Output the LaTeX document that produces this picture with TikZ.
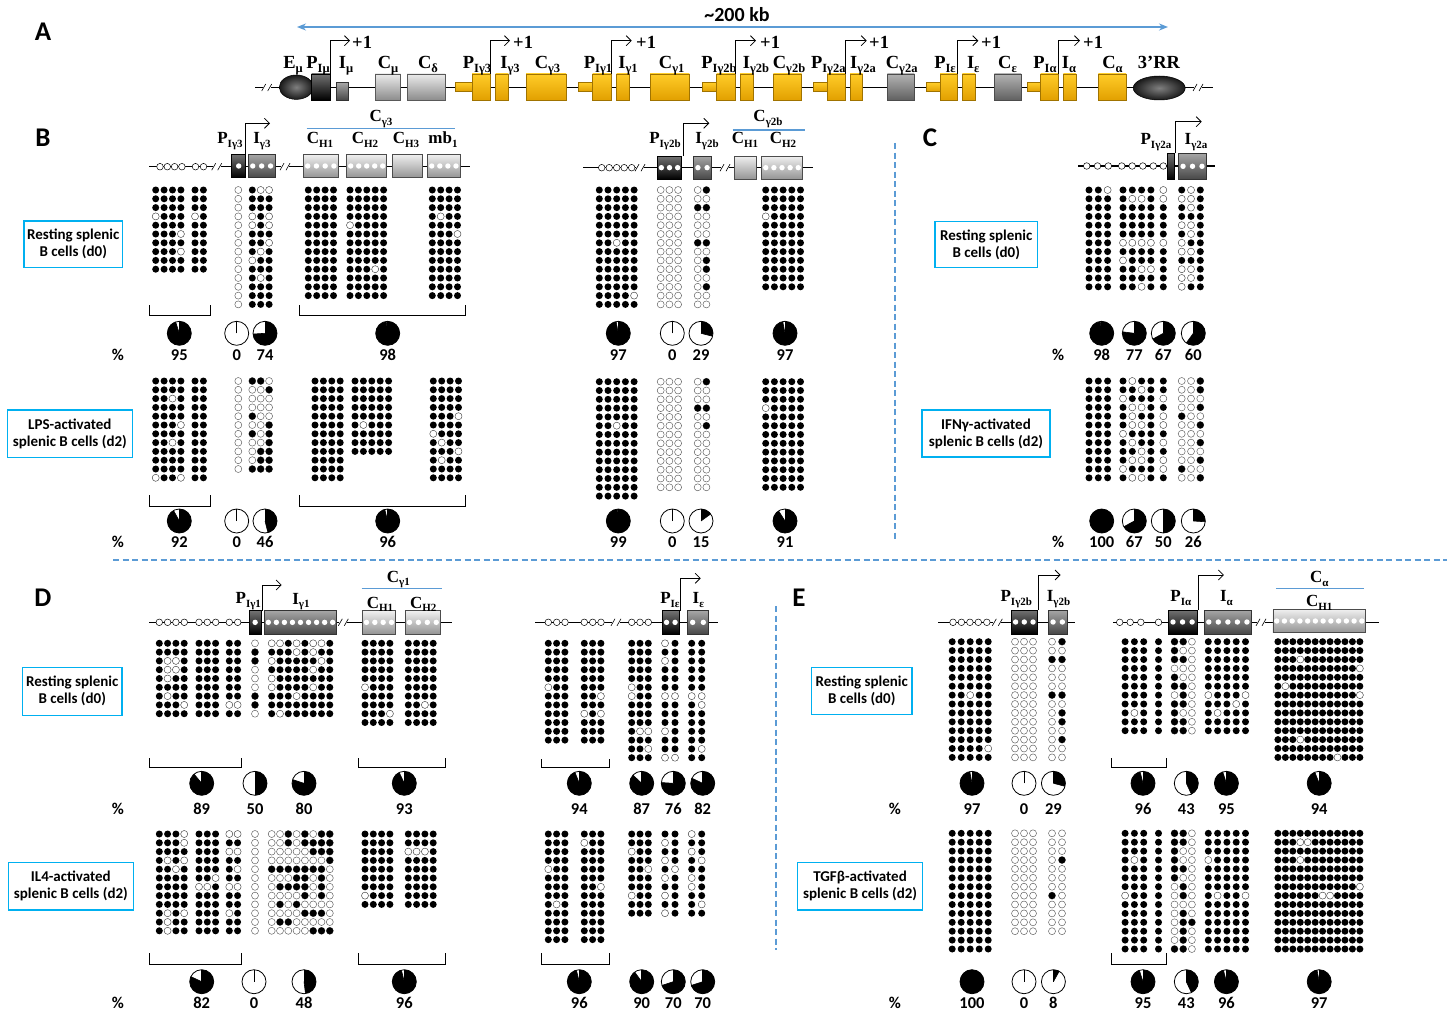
\documentclass[tikz,border=0pt]{standalone}
\usepackage{fontspec}
\setmainfont{Liberation Serif}
\newfontfamily\cfont{Carlito}
\usetikzlibrary{arrows.meta}
\definecolor{cyanbox}{RGB}{0,176,240}
\definecolor{dblue}{RGB}{91,155,213}
\definecolor{goldlt}{RGB}{255,204,40}
\definecolor{golddk}{RGB}{226,160,0}
\definecolor{goldln}{RGB}{160,115,0}
\newcommand{\lsub}[1]{\raisebox{-0.5ex}{\fontsize{11}{11}\selectfont #1}}
\newcommand{\asub}[1]{\raisebox{-0.5ex}{\fontsize{12.5}{12.5}\selectfont #1}}
\def\dx{8.4}\def\dy{8.8}\def\dr{3.5pt}
\tikzset{
  fdot/.style={fill=black},
  odot/.style={fill=white,draw=black!65,line width=0.45pt},
  altfdot/.style={odot},
  altodot/.style={fdot},
  blk/.style={top color=black!55,bottom color=black,draw=black,line width=0.5pt},
  mgr/.style={top color=black!35,bottom color=black!72,draw=black!80,line width=0.5pt},
  lgr/.style={top color=black!6,bottom color=black!42,draw=black!70,line width=0.5pt},
  ygb/.style={top color=goldlt,bottom color=golddk,draw=goldln,line width=0.5pt},
  agr/.style={top color=black!8,bottom color=black!45,draw=black!65,line width=0.5pt},
  dgr/.style={top color=black!30,bottom color=black!62,draw=black!70,line width=0.5pt},
  glab/.style={font=\bfseries\fontsize{17}{17}\selectfont,anchor=base,inner sep=0pt},
  alab/.style={font=\bfseries\fontsize{18.5}{18.5}\selectfont,anchor=base,inner sep=0pt},
  numlab/.style={font=\cfont\bfseries\fontsize{16.5}{16.5}\selectfont,inner sep=0pt},
  plab/.style={font=\cfont\bfseries\fontsize{27}{27}\selectfont,inner sep=0pt},
  cellbox/.style={draw=cyanbox,line width=1.3pt,font=\cfont\bfseries\fontsize{15}{17}\selectfont,align=center,inner sep=0pt},
  sepline/.style={dblue,line width=1.5pt,dash pattern=on 6pt off 3.5pt},
  tssarrow/.style={line width=0.8pt,-{Straight Barb[length=5pt,width=10pt]}},
  locus/.style={line width=1.2pt},
  bracket/.style={line width=0.9pt},
  bluebar/.style={dblue,line width=1.1pt},
}
% dot grid: x0, y0, cols, rows, default (f/o), exceptions c/r
\newcommand{\dgrid}[6]{%
  \foreach \cc in {1,...,#3}{\foreach \rr in {1,...,#4}{%
    \path[#5dot] ({#1+(\cc-1)*\dx},{#2+(\rr-1)*\dy}) circle[radius=\dr];}}%
  \foreach \cc/\rr in {#6}{\ifnum\cc>0
    \path[alt#5dot] ({#1+(\cc-1)*\dx},{#2+(\rr-1)*\dy}) circle[radius=\dr];\fi}}
% pie: x, y, pct, number y
\newcommand{\piec}[4]{%
  \draw[line width=0.8pt,fill=white] (#1,#2) circle[radius=12pt];
  \ifnum#3>0 \fill (#1,#2) -- ++(0,-12) arc[start angle=90,end angle={90-3.6*#3},radius=12pt] -- cycle;
  \draw[line width=0.6pt] (#1,#2) -- ++({90-3.6*#3}:12pt);\fi
  \draw[line width=0.6pt] (#1,#2) -- ++(0,-12);
  \node[numlab] at (#1,#4) {#3};}
% gene box: style, x1,y1,x2,y2, ndots
\newcommand{\gbox}[6]{%
  \path[#1] (#2,#3) rectangle (#4,#5);
  \ifnum#6>0
  \foreach \k in {1,...,#6}{\fill[white] ({#2+(#4-#2)*(\k-0.5)/#6},{(#3+#5)/2}) circle[radius=2.7pt];}
  \fi}
\newcommand{\lcs}[2]{\foreach \xx in {#2}{\draw[fill=white,line width=0.5pt] (\xx,#1) circle[radius=3.3pt];}}
\newcommand{\brk}[2]{\fill[white] (#1-4,#2-2) rectangle (#1+4,#2+2);
  \draw[line width=0.6pt] (#1-5,#2+3.5)--(#1-1,#2-3.5) (#1+1,#2+3.5)--(#1+5,#2-3.5);}
\newcommand{\tss}[4]{\draw[tssarrow] (#1,#2) -- (#1,#3) -- (#4,#3);}
\newcommand{\brkt}[4]{\draw[bracket] (#1,#3) -- (#1,#4) -- (#2,#4) -- (#2,#3);}
\begin{document}
\begin{tikzpicture}[x=1pt,y=-1pt]
\useasboundingbox (0,0) rectangle (1453,1014);
\fill[white] (0,0) rectangle (1453,1014);

% ================= Panel A =================
\node[plab] (lA) at (43,32) {A};
\draw[dblue,line width=1.3pt,{Stealth[length=9pt,width=7pt]}-{Stealth[length=9pt,width=7pt]}] (297,27) -- (1168,27);
\node[font=\cfont\bfseries\fontsize{20}{20}\selectfont] (kb) at (737,15) {\textasciitilde200 kb};
\draw[line width=0.6pt] (255,87.5) -- (1213,87.5);
\brk{266.7}{87.5}
\brk{1198}{87.5}
\draw[line width=0.5pt,draw=black,inner color=black!50,outer color=black!90] (296.3,87.2) ellipse[x radius=17pt,y radius=12.2pt];
\gbox{blk}{311.7}{74}{330}{100}{0}
\gbox{mgr}{336}{82.7}{348.7}{100}{0}
\gbox{agr}{375}{74}{400.7}{100}{0}
\gbox{agr}{407}{74}{445}{100}{0}
\gbox{ygb}{455.7}{82.7}{472}{91.7}{0}
\gbox{ygb}{472}{74}{490}{100}{0}
\gbox{ygb}{495.7}{74}{508.3}{100}{0}
\gbox{ygb}{526}{74}{566}{100}{0}
\gbox{ygb}{578.3}{82.7}{592.7}{91.7}{0}
\gbox{ygb}{592.7}{74}{611}{100}{0}
\gbox{ygb}{616.7}{74}{629.3}{100}{0}
\gbox{ygb}{650}{74}{689.3}{100}{0}
\gbox{ygb}{702.3}{82.7}{716.7}{91.7}{0}
\gbox{ygb}{716.7}{74}{735.3}{100}{0}
\gbox{ygb}{740}{74}{753.3}{100}{0}
\gbox{ygb}{773.3}{74}{801.7}{100}{0}
\gbox{ygb}{813.3}{82.7}{827.3}{91.7}{0}
\gbox{ygb}{827.3}{74}{845.3}{100}{0}
\gbox{ygb}{850}{74}{862.7}{100}{0}
\gbox{dgr}{887.3}{74}{914.3}{100}{0}
\gbox{ygb}{926}{82.7}{940}{91.7}{0}
\gbox{ygb}{940}{74}{957.3}{100}{0}
\gbox{ygb}{962.3}{74}{975}{100}{0}
\gbox{dgr}{994.3}{74}{1021}{100}{0}
\gbox{ygb}{1027.7}{82.7}{1040.7}{91.7}{0}
\gbox{ygb}{1040.7}{74}{1058.3}{100}{0}
\gbox{ygb}{1063.3}{74}{1076}{100}{0}
\gbox{ygb}{1098.3}{74}{1126}{100}{0}
\draw[line width=0.5pt,draw=black,inner color=black!50,outer color=black!90] (1159.2,88) ellipse[x radius=26pt,y radius=12pt];
\tss{330}{74}{40.7}{350}
\tss{490}{74}{40.7}{510}
\tss{611}{74}{40.7}{631.7}
\tss{735.3}{74}{40.7}{756}
\tss{845.3}{74}{40.7}{866.7}
\tss{957.3}{74}{40.7}{978.3}
\tss{1058.3}{74}{40.7}{1080}
\foreach \px/\nm in {352/p1,513/p2,636/p3,760/p4,869/p5,981/p6,1083/p7}{
  \node[alab,anchor=base west] (\nm) at (\px,48.5) {+1};}
\node[alab] (aEm) at (293,68.3) {E\asub{μ}};
\node[alab] (aPm) at (318,68.3) {P\asub{Iμ}};
\node[alab] (aIm) at (346,68.3) {I\asub{μ}};
\node[alab] (aCm) at (388,68.3) {C\asub{μ}};
\node[alab] (aCd) at (428,68.3) {C\asub{δ}};
\node[alab] (aP3) at (477,68.3) {P\asub{Iγ3}};
\node[alab] (aI3) at (510,68.3) {I\asub{γ3}};
\node[alab] (aC3) at (547.5,68.3) {C\asub{γ3}};
\node[alab] (aP1) at (598,68.3) {P\asub{Iγ1}};
\node[alab] (aI1) at (628,68.3) {I\asub{γ1}};
\node[alab] (aC1) at (671.7,68.3) {C\asub{γ1}};
\node[alab] (aP2b) at (719,68.3) {P\asub{Iγ2b}};
\node[alab] (aI2b) at (756,68.3) {I\asub{γ2b}};
\node[alab] (aC2b) at (789,68.3) {C\asub{γ2b}};
\node[alab] (aP2a) at (828.3,68.3) {P\asub{Iγ2a}};
\node[alab] (aI2a) at (863,68.3) {I\asub{γ2a}};
\node[alab] (aC2a) at (901.7,68.3) {C\asub{γ2a}};
\node[alab] (aPe) at (945,68.3) {P\asub{Iε}};
\node[alab] (aIe) at (973.3,68.3) {I\asub{ε}};
\node[alab] (aCe) at (1007.5,68.3) {C\asub{ε}};
\node[alab] (aPa) at (1045,68.3) {P\asub{Iα}};
\node[alab] (aIa) at (1069,68.3) {I\asub{α}};
\node[alab] (aCa) at (1112.5,68.3) {C\asub{α}};
\node[alab] (aRR) at (1159,68.3) {3’RR};

% ================= separators =================
\draw[sepline] (895,143) -- (895,540);
\draw[sepline] (113,560) -- (1447,560);
\draw[sepline] (776,606) -- (776,950);

% ================= Panel B =================
\node[plab] (lB) at (43,138) {B};
\draw[locus] (149,166.7) -- (470,166.7);
\lcs{166.7}{160,167.3,174.6,181.9,195.5,203.5}
\brk{216.7}{166.7}
\brk{285}{166.7}
\gbox{blk}{231.7}{154.3}{245.7}{177.7}{1}
\gbox{mgr}{248.3}{154.3}{275}{177.7}{3}
\gbox{lgr}{303.3}{154.3}{338.3}{177.7}{4}
\gbox{lgr}{346.7}{154.3}{386.7}{177.7}{5}
\gbox{lgr}{392.7}{154.3}{422.7}{177.7}{0}
\gbox{lgr}{427.7}{154.3}{460}{177.7}{4}
\tss{245.7}{154.3}{123.3}{270}
\node[glab] (bP3) at (230,143.5) {P\lsub{Iγ3}};
\node[glab] (bI3) at (262,143.5) {I\lsub{γ3}};
\node[glab] (bH1) at (320,143.5) {C\lsub{H1}};
\node[glab] (bH2) at (365,143.5) {C\lsub{H2}};
\node[glab] (bH3) at (406,143.5) {C\lsub{H3}};
\node[glab] (bmb) at (443,143.5) {mb\lsub{1}};
\node[glab] (bCg3) at (381,122) {C\lsub{γ3}};
\draw[bluebar] (306.7,128.3) -- (455,128.3);

\draw[locus] (583.3,167.7) -- (812.7,167.7);
\lcs{167.7}{601.7,609.2,616.7,624.2,631.7}
\brk{640}{167.7}
\brk{725}{167.7}
\gbox{blk}{657.3}{156}{681.7}{179.3}{3}
\gbox{mgr}{693.3}{156}{711.7}{179.3}{2}
\gbox{lgr}{734}{156}{756}{179.3}{0}
\gbox{lgr}{761.7}{156}{802.3}{179.3}{5}
\tss{683.5}{156}{123.3}{709.3}
\node[glab] (bP2b) at (665,143.5) {P\lsub{Iγ2b}};
\node[glab] (bI2b) at (707,143.5) {I\lsub{γ2b}};
\node[glab] (bH1b) at (745,143.5) {C\lsub{H1}};
\node[glab] (bH2b) at (783,143.5) {C\lsub{H2}};
\node[glab] (bCg2b) at (768,122) {C\lsub{γ2b}};
\draw[bluebar] (732.7,130) -- (805,130);

\node[cellbox,minimum width=98.7pt,minimum height=46.7pt] (cb1) at (73.3,244.3) {Resting splenic\\B cells (d0)};
\node[cellbox,minimum width=125pt,minimum height=47.7pt] (cb2) at (69.8,433.8) {LPS-activated\\splenic B cells (d2)};

\def\dx{8.4}\def\dy{8.8}
\dgrid{155.7}{190}{4}{10}{f}{1/4,4/6,4/8}
\dgrid{195}{190}{2}{10}{f}{1/4}
\dgrid{238.3}{190}{1}{14}{o}{0/0}
\dgrid{252.3}{190}{3}{14}{f}{2/1,3/1,1/4,3/4,1/5,3/5,3/7,2/8,1/9,2/11}
\dgrid{308.3}{190}{4}{13}{f}{0/0}
\dgrid{350}{190}{5}{13}{f}{1/5,4/10}
\dgrid{432.3}{190}{4}{13}{f}{2/4,4/6}
\dgrid{155.7}{381}{4}{12}{f}{3/3,4/6,3/8,1/12,4/12}
\dgrid{195}{381}{2}{12}{f}{0/0}
\dgrid{238.3}{381}{1}{11}{o}{0/0}
\dgrid{252.3}{381}{3}{11}{o}{1/1,2/1,3/2,1/5,3/6,1/7,3/7,3/8,2/9,3/9,2/10,3/10,1/11,2/11,3/11}
\dgrid{315}{381}{4}{12}{f}{0/0}
\dgrid{355}{381}{5}{9}{f}{2/6}
\dgrid{433.3}{381}{4}{12}{f}{4/5,1/7,2/8,4/9,2/10}
\def\dx{8.7}
\dgrid{599.3}{190}{5}{14}{f}{3/7,5/13}
\dgrid{660.7}{190}{3}{14}{o}{0/0}
\dgrid{697.7}{190}{2}{14}{o}{2/1,1/3,2/3,1/7,2/7,2/9,2/10,2/12}
\dgrid{765.7}{190}{5}{12}{f}{1/4}
\dgrid{599.3}{381.7}{5}{14}{f}{3/6}
\dgrid{660.7}{381.7}{3}{13}{o}{0/0}
\dgrid{697.7}{381.7}{2}{13}{o}{2/1,1/4,2/4,2/6}
\dgrid{765.7}{381.7}{5}{13}{f}{1/4}

\brkt{149}{210}{305}{315}
\brkt{299}{465.7}{305}{315}
\brkt{149}{210}{495}{506}
\brkt{299}{465.7}{495}{506}

\node[numlab] (pc1) at (118,355) {\%};
\node[numlab] (pc2) at (118,542) {\%};
\piec{179.3}{333.3}{95}{355}
\piec{236.7}{333.3}{0}{355}
\piec{265}{333.3}{74}{355}
\piec{387.7}{333.3}{98}{355}
\piec{618.3}{333.3}{97}{355}
\piec{672.3}{333.3}{0}{355}
\piec{701}{333.3}{29}{355}
\piec{785}{333.3}{97}{355}
\piec{179.3}{521}{92}{542}
\piec{236.7}{521}{0}{542}
\piec{265}{521}{46}{542}
\piec{387.7}{521}{96}{542}
\piec{618.3}{521}{99}{542}
\piec{672.3}{521}{0}{542}
\piec{701}{521}{15}{542}
\piec{785}{521}{91}{542}

% ================= Panel C =================
\node[plab] (lC) at (930,138) {C};
\draw[locus] (1078.3,166) -- (1215,166);
\lcs{166}{1086.7,1097.5,1108.3,1121.7,1132.2,1142.8,1153.3,1163.3}
\gbox{blk}{1167.3}{153.3}{1174}{179.3}{0}
\gbox{mgr}{1178.3}{153.3}{1206.7}{179.3}{3}
\tss{1175}{153.3}{121.7}{1201.7}
\node[glab] (cP) at (1156,145) {P\lsub{Iγ2a}};
\node[glab] (cI) at (1196,145) {I\lsub{γ2a}};
\node[cellbox,minimum width=102.7pt,minimum height=45.6pt] (cb3) at (986.3,244.5) {Resting splenic\\B cells (d0)};
\node[cellbox,minimum width=128pt,minimum height=47pt] (cb4) at (986,433.5) {IFNγ-activated\\splenic B cells (d2)};
\def\dx{9.3}
\dgrid{1089}{190}{3}{12}{f}{3/1}
\dgrid{1123}{190}{4}{12}{f}{2/2,3/2,1/7,2/7,3/7,4/7,1/9,3/10,4/10,3/12}
\dgrid{1163.3}{190}{1}{12}{f}{1/1,1/2,1/7}
\dgrid{1181.7}{190}{3}{12}{f}{2/1,1/2,2/2,2/3,1/5,2/5,2/6,1/7,1/8,2/8,1/10,2/10,1/11,2/11,1/12}
\dgrid{1089}{381}{3}{12}{f}{0/0}
\dgrid{1123}{381}{4}{12}{f}{2/1,3/2,1/3,2/4,3/4,2/5,2/6,3/6,1/7,2/8,3/9,2/10,3/10,1/11,2/12,3/12}
\dgrid{1163.3}{381}{1}{12}{f}{1/3,1/5,1/6,1/8,1/10,1/11}
\dgrid{1181.7}{381}{3}{12}{o}{3/1,3/2,3/4,1/5,3/6,3/8,3/10,1/11,3/12}
\node[numlab] (pc3) at (1058,355) {\%};
\node[numlab] (pc4) at (1058,542) {\%};
\piec{1101.7}{333.3}{98}{355}
\piec{1134.3}{333.3}{77}{355}
\piec{1163.3}{333.3}{67}{355}
\piec{1193.3}{333.3}{60}{355}
\piec{1101.7}{521}{100}{542}
\piec{1134.3}{521}{67}{542}
\piec{1163.3}{521}{50}{542}
\piec{1193.3}{521}{26}{542}

% ================= Panel D =================
\node[plab] (lD) at (43,598) {D};
\draw[locus] (149,622.3) -- (451.7,622.3);
\lcs{622.3}{159.3,167.6,175.9,184.3,199,207.3,215.7,229.3,237.7}
\brk{343.3}{622.3}
\gbox{blk}{249.3}{610.7}{261}{634}{1}
\gbox{mgr}{264.3}{610.7}{336.7}{634}{9}
\gbox{lgr}{362.3}{610.7}{395.7}{634}{4}
\gbox{lgr}{405}{610.7}{440.7}{634}{4}
\tss{262.3}{610.7}{585}{281.7}
\node[glab] (dP1) at (248.3,603.3) {P\lsub{Iγ1}};
\node[glab] (dI1) at (301,604) {I\lsub{γ1}};
\node[glab] (dH1) at (380,608) {C\lsub{H1}};
\node[glab] (dH2) at (423.3,608) {C\lsub{H2}};
\node[glab] (dCg1) at (398.3,582) {C\lsub{γ1}};
\draw[bluebar] (361.7,588.3) -- (441.7,588.3);

\draw[locus] (535,622.3) -- (718.3,622.3);
\lcs{622.3}{548.3,556.7,565,584.3,592.7,601,631.7,640,648.3}
\brk{616}{622.3}
\gbox{blk}{662.3}{610.7}{679.3}{634}{2}
\gbox{mgr}{687.3}{610.7}{708.7}{634}{2}
\tss{680}{610.7}{578.3}{700.7}
\node[glab] (dPe) at (670,603.3) {P\lsub{Iε}};
\node[glab] (dIe) at (698.3,603.3) {I\lsub{ε}};

\node[cellbox,minimum width=99.3pt,minimum height=48pt] (cb5) at (72.3,691.3) {Resting splenic\\B cells (d0)};
\node[cellbox,minimum width=125pt,minimum height=47.7pt] (cb6) at (70.8,886.2) {IL4-activated\\splenic B cells (d2)};
\def\dx{8.3}
\dgrid{159.3}{643.3}{4}{9}{f}{2/3,3/3,2/4,3/4,2/5,2/7,4/8}
\dgrid{199}{643.3}{3}{9}{f}{0/0}
\dgrid{229.3}{643.3}{2}{9}{f}{1/8,2/8}
\dgrid{255}{643.3}{1}{9}{o}{1/2,1/3,1/7,1/8}
\dgrid{271.7}{643.3}{8}{9}{f}{1/1,2/1,4/1,6/1,7/1,4/2,6/2,1/3,7/3,6/4,1/5,1/6,6/6,4/7,2/9}
\dgrid{365}{643.3}{4}{10}{f}{1/6,4/9}
\dgrid{408.3}{643.3}{4}{10}{f}{3/8}
\dgrid{159.3}{834}{4}{12}{f}{4/1,4/2,2/4,4/4,3/5,2/10,4/10,2/11,2/12}
\dgrid{199}{834}{3}{12}{f}{3/6,1/7,2/7}
\dgrid{229.3}{834}{2}{12}{f}{1/1,2/1,1/3,2/3,2/5,1/7,2/7,1/10}
\dgrid{255}{834}{1}{12}{o}{0/0}
\dgrid{271.7}{834}{8}{12}{o}{3/1,5/1,7/1,8/1,3/2,5/2,6/2,7/2,8/2,6/3,7/3,8/3,8/4,1/5,2/5,3/5,4/5,5/5,6/5,7/5,4/6,5/6,7/6,2/7,3/7,4/7,5/7,7/7,5/8,7/8,2/9,4/9,5/10,6/10,7/10,2/11,3/11,6/12,7/12,8/12}
\dgrid{365}{834}{4}{9}{f}{1/8}
\dgrid{408.3}{834}{4}{9}{f}{1/3,2/3,3/3}
\dgrid{548.3}{643.3}{3}{12}{f}{1/6}
\dgrid{584.3}{643.3}{3}{12}{f}{3/7,1/9,3/9}
\dgrid{631.7}{643.3}{3}{14}{f}{1/6,1/7,2/11,3/11,3/13}
\dgrid{548.3}{834}{3}{13}{f}{1/5,2/9}
\dgrid{584.3}{834}{3}{13}{f}{1/2,3/7}
\dgrid{631.7}{834}{3}{10}{f}{1/3,3/5,1/8}
\def\dx{10}
\dgrid{665}{643.3}{2}{14}{f}{1/1,1/3,1/7,2/7,1/11,1/14,2/14}
\dgrid{691.7}{643.3}{2}{14}{f}{1/7,2/7,2/8,2/13}
\dgrid{665}{834}{2}{10}{f}{1/2,1/4,2/5,1/6,1/8,1/10}
\dgrid{691.7}{834}{2}{10}{f}{1/1,1/3,2/4,1/6,1/7,2/9}

\brkt{149}{241}{758}{767}
\brkt{358.3}{445.7}{758}{767}
\brkt{541}{609.3}{759}{767}
\brkt{149}{241}{953}{964}
\brkt{358.3}{445.7}{953}{964}
\brkt{541}{609.3}{953}{964}

\node[numlab] (pc5) at (118,809) {\%};
\node[numlab] (pc6) at (118,1003) {\%};
\piec{201.7}{783.3}{89}{809}
\piec{255}{783.3}{50}{809}
\piec{304}{783.3}{80}{809}
\piec{404.3}{783.3}{93}{809}
\piec{579.3}{783.3}{94}{809}
\piec{641.7}{783.3}{87}{809}
\piec{673.3}{783.3}{76}{809}
\piec{702.7}{783.3}{82}{809}
\piec{201.7}{981.7}{82}{1003}
\piec{254}{981.7}{0}{1003}
\piec{304}{981.7}{48}{1003}
\piec{404.3}{981.7}{96}{1003}
\piec{579.3}{981.7}{96}{1003}
\piec{641.7}{981.7}{90}{1003}
\piec{673.3}{981.7}{70}{1003}
\piec{702.7}{981.7}{70}{1003}

% ================= Panel E =================
\node[plab] (lE) at (799,598) {E};
\draw[locus] (938.2,622.3) -- (1075.4,622.3);
\lcs{622.3}{953,961.4,969.9,978.3,986.8}
\brk{997.3}{622.3}
\gbox{blk}{1011.2}{610}{1037.4}{634}{3}
\gbox{mgr}{1048.4}{610}{1067}{634}{2}
\tss{1038.2}{610}{575}{1060.6}
\node[glab] (eP2b) at (1016.3,601.7) {P\lsub{Iγ2b}};
\node[glab] (eI2b) at (1058.5,601.7) {I\lsub{γ2b}};

\draw[locus] (1113.3,622.3) -- (1379.2,622.3);
\lcs{622.3}{1119.7,1130.2,1140.8,1158.5}
\brk{1261}{622.3}
\gbox{blk}{1168.2}{610}{1196.9}{634}{3}
\gbox{mgr}{1204}{610}{1251.7}{634}{5}
\gbox{lgr}{1272.8}{609.3}{1365.7}{632.7}{12}
\tss{1198.6}{610}{575}{1223.9}
\node[glab] (ePa) at (1180.8,601.7) {P\lsub{Iα}};
\node[glab] (eIa) at (1226.4,601.7) {I\lsub{α}};
\node[glab] (eH1) at (1319.2,606.7) {C\lsub{H1}};
\node[glab] (eCa) at (1319.2,582.5) {C\lsub{α}};
\draw[bluebar] (1275.8,588.3) -- (1364.4,588.3);

\node[cellbox,minimum width=100.4pt,minimum height=47.4pt] (cb7) at (861.8,691) {Resting splenic\\B cells (d0)};
\node[cellbox,minimum width=124.9pt,minimum height=47.3pt] (cb8) at (860.1,886.3) {TGFβ-activated\\splenic B cells (d2)};
\def\dy{8.9}
\def\dx{9}
\dgrid{952.2}{641.7}{5}{14}{f}{3/7,5/13}
\dgrid{1015}{641.7}{3}{14}{o}{0/0}
\dgrid{952.2}{833.3}{5}{14}{f}{0/0}
\dgrid{1015}{833.3}{3}{12}{o}{0/0}
\def\dx{10}
\dgrid{1052}{641.7}{2}{14}{o}{2/1,1/3,2/3,1/7,2/7,2/9,2/10,2/12}
\dgrid{1052}{833.3}{2}{12}{o}{2/4,1/8}
\def\dx{9.3}
\dgrid{1125.1}{641.7}{3}{11}{f}{2/9}
\dgrid{1158.5}{641.7}{1}{11}{f}{0/0}
\dgrid{1208.3}{641.7}{5}{11}{f}{1/7,5/7,4/8,2/9}
\dgrid{1125.1}{833.3}{3}{14}{f}{2/4,1/8}
\dgrid{1158.5}{833.3}{1}{14}{f}{0/0}
\dgrid{1208.3}{833.3}{5}{14}{f}{1/4,2/8,5/8}
\def\dx{8.7}
\dgrid{1174.5}{641.7}{3}{11}{o}{1/1,2/1,1/2,1/3,2/3,1/5,1/6,2/6,2/7,1/8,2/8,1/9,1/10,2/10,1/11,2/11}
\dgrid{1174.5}{833.3}{3}{14}{o}{1/1,2/1,1/2,2/2,1/3,1/4,1/5,2/5,1/6,2/7,2/8,2/10,2/11,3/11,2/12,2/13,1/14,2/14}
\def\dx{7.45}
\dgrid{1277.9}{641.7}{12}{14}{f}{4/3,12/4,2/6,12/7,4/12,9/14}
\dgrid{1277.9}{833.3}{12}{14}{f}{4/2,5/2,4/4,12/7,7/8,8/8}

\brkt{1111.2}{1166}{758}{767}
\brkt{1111.2}{1166}{953}{964}

\node[numlab] (pc7) at (895,809) {\%};
\node[numlab] (pc8) at (895,1003) {\%};
\piec{972}{783.3}{97}{809}
\piec{1024}{783.3}{0}{809}
\piec{1053.4}{783.3}{29}{809}
\piec{1143}{783.3}{96}{809}
\piec{1186.3}{783.3}{43}{809}
\piec{1226.4}{783.3}{95}{809}
\piec{1319.2}{783.3}{94}{809}
\piec{972}{981.7}{100}{1003}
\piec{1024}{981.7}{0}{1003}
\piec{1053.4}{981.7}{8}{1003}
\piec{1143}{981.7}{95}{1003}
\piec{1186.3}{981.7}{43}{1003}
\piec{1226.4}{981.7}{96}{1003}
\piec{1319.2}{981.7}{97}{1003}
\end{tikzpicture}
\end{document}
